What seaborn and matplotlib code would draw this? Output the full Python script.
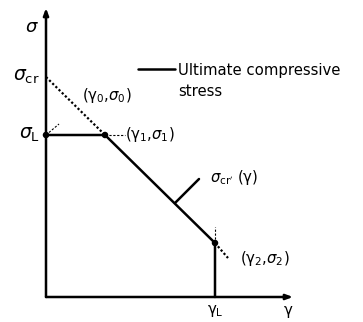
import numpy as np
import pandas as pd
import seaborn as sns
import matplotlib.pyplot as plt

# characteristic values (arbitrary units)
sigma_cr = 2.20
sigma_L = 1.62
gamma_1 = 0.59
gamma_L = 1.69
sigma_2 = 0.54
gamma_end = 1.82     # end of the dotted extension
sigma_end = 0.39
gamma_max = 2.47
sigma_max = 2.89

sns.set_style('white')
plt.rcParams['font.family'] = ['DejaVu Sans']
plt.rcParams['mathtext.fontset'] = 'dejavusans'
plt.rcParams['text.color'] = 'black'

fig = plt.figure(figsize=(3.63, 3.22), dpi=100)
ax = fig.add_axes([0, 0, 1, 1])

# axes with arrows
ax.annotate('', xy=(0, sigma_max), xytext=(0, 0),
            arrowprops=dict(arrowstyle='-|>,head_length=0.4,head_width=0.15', color='black', lw=1.8, shrinkA=0, shrinkB=0))
ax.annotate('', xy=(gamma_max, 0), xytext=(0, 0),
            arrowprops=dict(arrowstyle='-|>,head_length=0.4,head_width=0.15', color='black', lw=1.8, shrinkA=0, shrinkB=0))

# ultimate compressive stress curve
curve = pd.DataFrame({'gamma': [0, gamma_1, gamma_L, gamma_L],
                      'sigma': [sigma_L, sigma_L, sigma_2, 0]})
sns.lineplot(data=curve, x='gamma', y='sigma', sort=False, estimator=None,
             color='black', lw=1.8, ax=ax)

# dotted elastic line
dotted = pd.DataFrame({'gamma': [0, gamma_1], 'sigma': [sigma_cr, sigma_L]})
sns.lineplot(data=dotted, x='gamma', y='sigma', sort=False, estimator=None,
             color='black', lw=1.6, ls=(0, (1, 1)), ax=ax)
dotted2 = pd.DataFrame({'gamma': [gamma_L, gamma_end], 'sigma': [sigma_2, sigma_end]})
sns.lineplot(data=dotted2, x='gamma', y='sigma', sort=False, estimator=None,
             color='black', lw=1.6, ls=(0, (1, 1)), ax=ax)

# thin dashed helpers
ax.plot([gamma_1, gamma_1 + 0.20], [sigma_L, sigma_L], color='black', lw=0.8, ls=(0, (2, 1.5)))
ax.plot([gamma_L, gamma_L], [sigma_2, sigma_2 + 0.16], color='black', lw=0.8, ls=(0, (2, 1.5)))
ax.plot([0, 0.13], [sigma_L, sigma_L + 0.11], color='black', lw=0.8, ls=(0, (2, 1.5)))

# points
pts = pd.DataFrame({'gamma': [0, gamma_1, gamma_L], 'sigma': [sigma_L, sigma_L, sigma_2]})
sns.scatterplot(data=pts, x='gamma', y='sigma', color='black', s=22, edgecolor='none', ax=ax, zorder=5)

# leader line for sigma_cr'(gamma)
ax.plot([1.29, 1.53], [0.94, 1.18], color='black', lw=1.8)

ax.axis('off')
ax.set_xlim(-0.46, 3.17)
ax.set_ylim(-0.25, 2.97)

fs = 10.7
ax.text(-0.07, 2.70, r'$\sigma$', fontsize=13, ha='right', va='center')
ax.text(-0.06, sigma_cr, r'$\sigma_{\rm cr}$', fontsize=13.5, ha='right', va='center')
ax.text(-0.06, sigma_L, r'$\sigma_{\rm L}$', fontsize=13.5, ha='right', va='center')
ax.text(gamma_L, -0.14, r'γ$_{\rm L}$', fontsize=fs, ha='center', va='center')
ax.text(2.42, -0.14, 'γ', fontsize=fs, ha='center', va='center')

ax.text(0.36, 2.02, r'(γ$_0$,$\sigma_0$)', fontsize=fs, ha='left', va='center')
ax.text(0.79, sigma_L, r'(γ$_1$,$\sigma_1$)', fontsize=fs, ha='left', va='center')
ax.text(1.64, 1.20, r"$\sigma_{\rm cr'}$ (γ)", fontsize=fs, ha='left', va='center')
ax.text(1.94, 0.39, r'(γ$_2$,$\sigma_2$)', fontsize=fs, ha='left', va='center')

# legend
ax.plot([0.92, 1.29], [2.28, 2.28], color='black', lw=1.8)
ax.text(1.32, 2.34, 'Ultimate compressive\nstress', fontsize=fs, ha='left', va='top', linespacing=1.5)

fig.savefig('out.png', dpi=100)
